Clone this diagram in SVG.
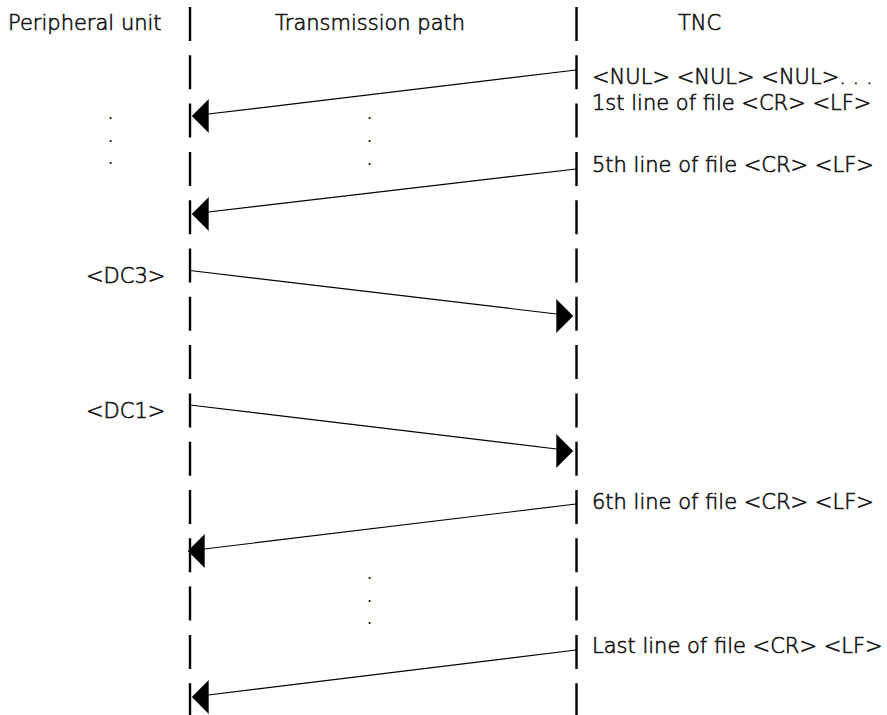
<svg xmlns="http://www.w3.org/2000/svg" width="887" height="715" viewBox="0 0 887 715">
<style>
text{font-family:"DejaVu Sans","Liberation Sans",sans-serif;font-size:21px;font-weight:300;fill:#111;stroke:#111;stroke-width:0.6}
.dot{font-size:16px;font-weight:400;stroke:none}
.life{stroke:#000;stroke-width:2.4;stroke-dasharray:34 14.3;fill:none}
.msg{stroke:#000;stroke-width:1.2;fill:none}
.head{fill:#000;stroke:#333;stroke-width:0.6}
</style>
<defs>
<polygon id="hl" class="head" points="0,0 16.5,-16.5 16.5,16.5"/>
<polygon id="hr" class="head" points="0,0 -16.5,-16.5 -16.5,16.5"/>
</defs>
<rect width="887" height="715" fill="#fff"/>
<g id="peripheral">
<text x="8" y="30">Peripheral unit</text>
<line class="life" x1="190" y1="7" x2="190" y2="715"/>
</g>
<g id="transmission">
<text x="275" y="30">Transmission path</text>
</g>
<g id="tnc">
<text x="678" y="30">TNC</text>
<line class="life" x1="576.5" y1="7" x2="576.5" y2="715"/>
</g>
<g id="labels">
<text x="592" y="84">&lt;NUL&gt; &lt;NUL&gt; &lt;NUL&gt;. . .</text>
<text x="592" y="110">1st line of file &lt;CR&gt; &lt;LF&gt;</text>
<text x="592" y="172">5th line of file &lt;CR&gt; &lt;LF&gt;</text>
<text x="86" y="283">&lt;DC3&gt;</text>
<text x="86" y="418">&lt;DC1&gt;</text>
<text x="592" y="509">6th line of file &lt;CR&gt; &lt;LF&gt;</text>
<text x="592" y="653">Last line of file &lt;CR&gt; &lt;LF&gt;</text>
</g>
<g id="dots">
<text class="dot" x="108" y="119">.</text>
<text class="dot" x="108" y="142">.</text>
<text class="dot" x="108" y="164">.</text>
<text class="dot" x="367" y="119">.</text>
<text class="dot" x="367" y="142">.</text>
<text class="dot" x="367" y="165">.</text>
<text class="dot" x="367" y="579">.</text>
<text class="dot" x="367" y="602">.</text>
<text class="dot" x="367" y="624">.</text>
</g>
<g id="connectors">
<line class="msg" x1="576" y1="70" x2="200" y2="115"/>
<use href="#hl" x="192" y="116"/>
<line class="msg" x1="576" y1="169" x2="200" y2="213"/>
<use href="#hl" x="192" y="214"/>
<line class="msg" x1="190" y1="270.5" x2="565" y2="315"/>
<use href="#hr" x="573" y="316"/>
<line class="msg" x1="190" y1="405" x2="565" y2="450"/>
<use href="#hr" x="573" y="451"/>
<line class="msg" x1="576" y1="504" x2="196" y2="550"/>
<use href="#hl" x="188" y="551"/>
<line class="msg" x1="576" y1="650" x2="200" y2="696"/>
<use href="#hl" x="192" y="697"/>
</g>
</svg>
